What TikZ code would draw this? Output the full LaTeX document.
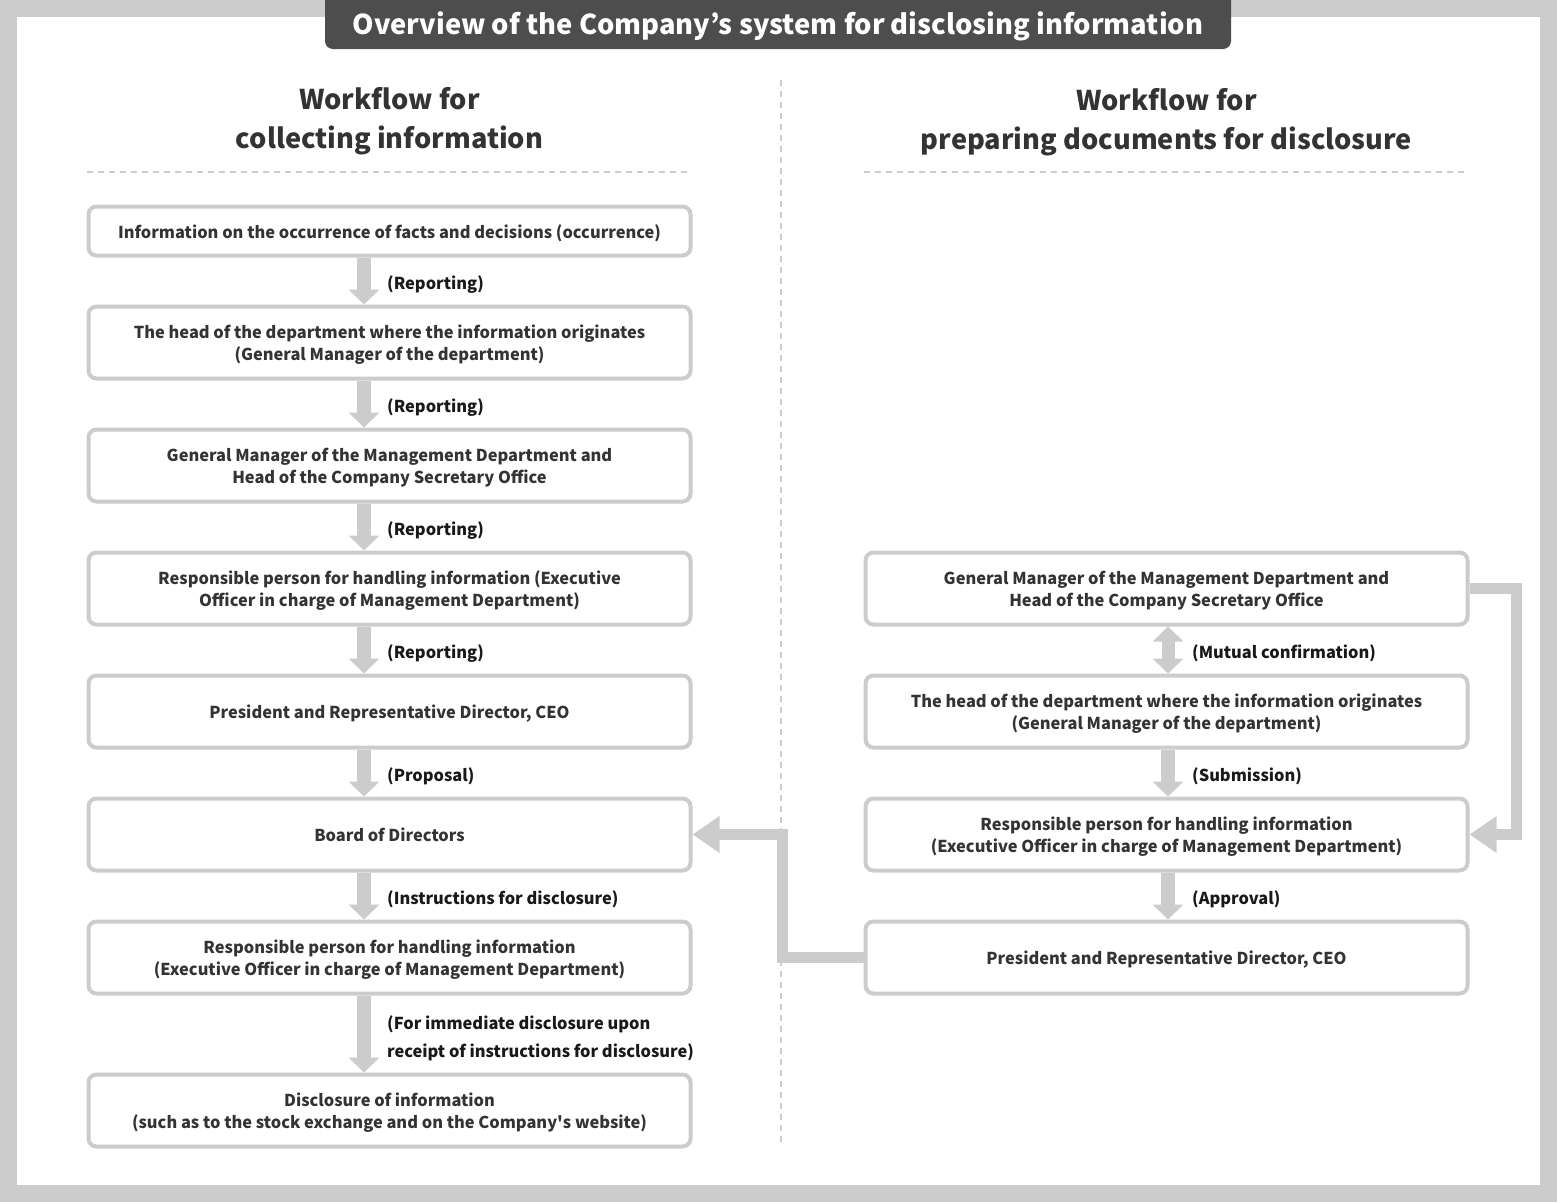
\documentclass[tikz,border=0pt]{standalone}
\usepackage{fontspec}
\setmainfont{Noto Sans CJK JP}
\usetikzlibrary{arrows.meta,calc}
\definecolor{lg}{HTML}{CCCCCC}
\definecolor{dk}{HTML}{4D4D4D}
\definecolor{tx}{HTML}{333333}
\newcommand\mytop{\rule{0pt}{24pt}}
\newcommand\mybot{\rule[-10pt]{0pt}{0pt}}
\tikzset{
  box/.style={draw=lg, line width=4pt, rounded corners=8pt, minimum width=602pt, minimum height=72pt, align=center, text=tx, font=\fontsize{16.4}{22}\selectfont\bfseries, inner sep=0pt},
  lbl/.style={anchor=west, text=black!90, font=\fontsize{16.4}{22}\selectfont\bfseries, inner sep=0pt, align=left},
  dn/.style={draw=lg, line width=14pt, -{Triangle[width=30pt,length=15pt]}},
  dbl/.style={draw=lg, line width=13pt, {Triangle[width=30pt,length=15pt]}-{Triangle[width=30pt,length=15pt]}},
  conn/.style={draw=lg, line width=11pt, line join=miter, -{Triangle[width=35pt,length=27pt]}},
  sep/.style={draw=lg, line width=2pt, dash pattern=on 6pt off 5pt},
  head/.style={text=tx, font=\fontsize{27.2}{39}\selectfont\bfseries, align=center, inner sep=0pt}
}
\begin{document}
\begin{tikzpicture}[x=1pt,y=-1pt]
\useasboundingbox (0,0) rectangle (1557,1202);
\fill[lg] (0,0) rectangle (1557,1202);
\fill[white] (17,17) rectangle (1540,1185);
\fill[dk, rounded corners=8pt] (325,-14) rectangle (1231,49);
\node[text=white, font=\fontsize{27.35}{34}\selectfont\bfseries, inner sep=0pt] (title) at (778,26.5) {Overview of the Company’s system for disclosing information};

% headings
\node[head] (hl) at (389.5,121) {Workflow for\\collecting information};
\node[head] (hr) at (1166.5,122) {Workflow for\\preparing documents for disclosure};
\draw[sep] (87,172) -- (692,172);
\draw[sep] (864,172) -- (1469,172);
\draw[sep] (781,80) -- (781,1145);

% left column
\node[box, minimum height=49pt] (b1) at (389.5,231) {\mytop Information on the occurrence of facts and decisions (occurrence)\mybot};
\node[box] (b2) at (389.5,342.5) {\mytop The head of the department where the information originates\\(General Manager of the department)\mybot};
\node[box] (b3) at (389.5,465.5) {\mytop General Manager of the Management Department and\\Head of the Company Secretary Office\mybot};
\node[box] (b4) at (389.5,588.5) {\mytop Responsible person for handling information (Executive\\Officer in charge of Management Department)\mybot};
\node[box] (b5) at (389.5,711.5) {\mytop President and Representative Director, CEO\mybot};
\node[box] (b6) at (389.5,834.5) {\mytop Board of Directors\mybot};
\node[box] (b7) at (389.5,957.5) {\mytop Responsible person for handling information\\(Executive Officer in charge of Management Department)\mybot};
\node[box] (b8) at (389.5,1110.5) {\mytop Disclosure of information\\(such as to the stock exchange and on the Company\textquotesingle s website)\mybot};

\coordinate (ax) at (364,0);
\draw[dn] (b1.south -| ax) -- (b2.north -| ax);
\draw[dn] (b2.south -| ax) -- (b3.north -| ax);
\draw[dn] (b3.south -| ax) -- (b4.north -| ax);
\draw[dn] (b4.south -| ax) -- (b5.north -| ax);
\draw[dn] (b5.south -| ax) -- (b6.north -| ax);
\draw[dn] (b6.south -| ax) -- (b7.north -| ax);
\draw[dn] (b7.south -| ax) -- (b8.north -| ax);

\node[lbl] (l1) at (387,282) {\mytop(Reporting)\mybot};
\node[lbl] (l2) at (387,405) {\mytop(Reporting)\mybot};
\node[lbl] (l3) at (387,528) {\mytop(Reporting)\mybot};
\node[lbl] (l4) at (387,651) {\mytop(Reporting)\mybot};
\node[lbl] (l5) at (387,774) {\mytop(Proposal)\mybot};
\node[lbl] (l6) at (387,897) {\mytop(Instructions for disclosure)\mybot};
\node[lbl, font=\fontsize{16.4}{28}\selectfont\bfseries] (l7) at (387,1036) {\mytop(For immediate disclosure upon\\receipt of instructions for disclosure)\mybot};

% right column
\node[box] (r1) at (1166.5,588.5) {\mytop General Manager of the Management Department and\\Head of the Company Secretary Office\mybot};
\node[box] (r2) at (1166.5,711.5) {\mytop The head of the department where the information originates\\(General Manager of the department)\mybot};
\node[box] (r3) at (1166.5,834.5) {\mytop Responsible person for handling information\\(Executive Officer in charge of Management Department)\mybot};
\node[box] (r4) at (1166.5,957.5) {\mytop President and Representative Director, CEO\mybot};

\coordinate (bx) at (1168,0);
\draw[dbl] (r1.south -| bx) -- (r2.north -| bx);
\draw[dn] (r2.south -| bx) -- (r3.north -| bx);
\draw[dn] (r3.south -| bx) -- (r4.north -| bx);

\node[lbl] (m1) at (1192,651) {\mytop(Mutual confirmation)\mybot};
\node[lbl] (m2) at (1192,774) {\mytop(Submission)\mybot};
\node[lbl] (m3) at (1192,897) {\mytop(Approval)\mybot};

% connectors
\coordinate (cx) at (782,0);
\coordinate (dx) at (1516,0);
\draw[conn] (r4.west) -| (cx |- b6.east) -- (b6.east);
\draw[conn] (r1.east) -| (dx |- r3.east) -- (r3.east);
\end{tikzpicture}
\end{document}
